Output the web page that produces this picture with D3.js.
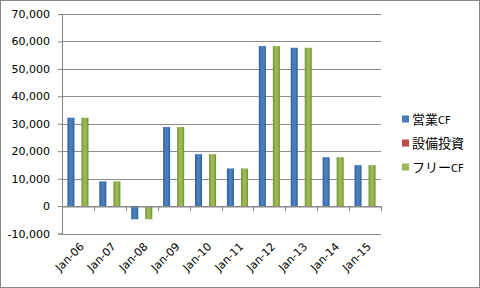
<!DOCTYPE html>
<html>
<head>
<meta charset="utf-8">
<style>
  body { margin: 0; background: #fff; }
  text { font-family: "DejaVu Sans", Verdana, sans-serif; }
</style>
</head>
<body>
<svg width="480" height="288"></svg>
<script src="https://cdn.jsdelivr.net/npm/d3@7"></script>
<script>
// data
var months = ["Jan-06", "Jan-07", "Jan-08", "Jan-09", "Jan-10", "Jan-11", "Jan-12", "Jan-13", "Jan-14", "Jan-15"];
var seriesNames = ["営業CF", "設備投資", "フリーCF"];
var operatingCF = [32200, 9000, -4800, 28800, 18900, 13700, 58300, 57700, 17800, 14900];
var capex = [0, 0, 0, 0, 0, 0, 0, 0, 0, 0];
var freeCF = [32200, 9000, -4800, 28800, 18900, 13700, 58300, 57700, 17800, 14900];
var yTicks = [-10000, 0, 10000, 20000, 30000, 40000, 50000, 60000, 70000];

var colors = ["#4a7ebb", "#be4b48", "#98b954"];
var darkColors = ["#2c5d9a", "#943634", "#6f8f33"];

var svg = d3.select("svg"),
    margin = { top: 14, right: 99, bottom: 54, left: 62 },
    width = 480 - margin.left - margin.right,
    height = 288 - margin.top - margin.bottom - 0.5;

// outer frame
svg.append("rect")
    .attr("x", 0.5).attr("y", 0.5)
    .attr("width", 479).attr("height", 287)
    .attr("fill", "#fff")
    .attr("stroke", "#868686");

// gradients for the bars
var defs = svg.append("defs");
colors.forEach(function (c, i) {
    var gr = defs.append("linearGradient").attr("id", "grad" + i)
        .attr("x1", "0").attr("x2", "1").attr("y1", "0").attr("y2", "0");
    gr.append("stop").attr("offset", "0").attr("stop-color", darkColors[i]);
    gr.append("stop").attr("offset", "0.35").attr("stop-color", c);
    gr.append("stop").attr("offset", "0.65").attr("stop-color", c);
    gr.append("stop").attr("offset", "1").attr("stop-color", darkColors[i]);
});

var g = svg.append("g").attr("transform", "translate(" + margin.left + "," + margin.top + ")");

var x = d3.scaleBand().domain(months).range([0, width]);
var x1 = d3.scaleBand().domain([0, 1, 2]).range([x.bandwidth() * 0.17, x.bandwidth() * 0.83]);
var y = d3.scaleLinear().domain([-10000, 70000]).range([height, 0]);

// gridlines
g.append("g")
    .selectAll("line")
    .data(yTicks)
    .enter().append("line")
    .attr("x1", 0).attr("x2", width)
    .attr("y1", function (d) { return Math.round(y(d)) + 0.5; })
    .attr("y2", function (d) { return Math.round(y(d)) + 0.5; })
    .attr("stroke", "#8c8c8c")
    .attr("stroke-width", 1);

// y axis
var yAxis = g.append("g")
    .call(d3.axisLeft(y).tickValues(yTicks).tickSize(4).tickPadding(8)
        .tickFormat(function (d) { return d3.format(",")(d).replace("−", "-"); }));
yAxis.select(".domain").attr("stroke", "#868686");
yAxis.selectAll(".tick line").attr("stroke", "#868686");
yAxis.selectAll("text").style("font-size", "11px").attr("fill", "#000");

// bars
var allSeries = [operatingCF, capex, freeCF];
allSeries.forEach(function (vals, si) {
    g.append("g")
        .selectAll("rect")
        .data(vals)
        .enter().append("rect")
        .attr("x", function (d, i) { return x(months[i]) + x1(si); })
        .attr("width", x1.bandwidth())
        .attr("y", function (d) { return y(Math.max(0, d)); })
        .attr("height", function (d) { return Math.abs(y(d) - y(0)); })
        .attr("fill", "url(#grad" + si + ")");
});

// x axis at zero
var xAxis = g.append("g")
    .attr("transform", "translate(0," + (Math.round(y(0)) + 0.5) + ")")
    .call(d3.axisBottom(x).tickSize(0).tickFormat(""));
xAxis.select(".domain").attr("stroke", "#868686");

// category tick marks at band edges
g.append("g")
    .selectAll("line")
    .data(months.concat(["end"]))
    .enter().append("line")
    .attr("x1", function (d, i) { return Math.round(i * x.step()) + 0.5; })
    .attr("x2", function (d, i) { return Math.round(i * x.step()) + 0.5; })
    .attr("y1", Math.round(y(0)))
    .attr("y2", Math.round(y(0)) + 5)
    .attr("stroke", "#868686");

// rotated category labels
g.append("g")
    .selectAll("text")
    .data(months)
    .enter().append("text")
    .attr("transform", function (d) {
        return "translate(" + (x(d) + x.bandwidth() / 2 + 4) + "," + (height + 11) + ") rotate(-45)";
    })
    .attr("text-anchor", "end")
    .attr("dy", "0.35em")
    .style("font-size", "11px")
    .attr("fill", "#000")
    .text(function (d) { return d; });

// legend
var legend = svg.append("g").attr("transform", "translate(402,119)");
seriesNames.forEach(function (name, i) {
    var row = legend.append("g").attr("transform", "translate(0," + i * 24 + ")");
    row.append("rect")
        .attr("x", 0).attr("y", -3.5)
        .attr("width", 7).attr("height", 7)
        .attr("fill", colors[i]);
    var t = row.append("text")
        .attr("x", 10).attr("y", 0)
        .attr("dy", "0.38em")
        .style("font-size", "13px")
        .style("font-family", "'Noto Sans CJK JP', sans-serif")
        .attr("fill", "#000");
    if (name.slice(-2) === "CF") {
        t.append("tspan").text(name.slice(0, -2));
        t.append("tspan").style("font-size", "10px")
            .style("font-family", "'DejaVu Sans', sans-serif").text("CF");
    } else {
        t.text(name);
    }
});
</script>
</body>
</html>
